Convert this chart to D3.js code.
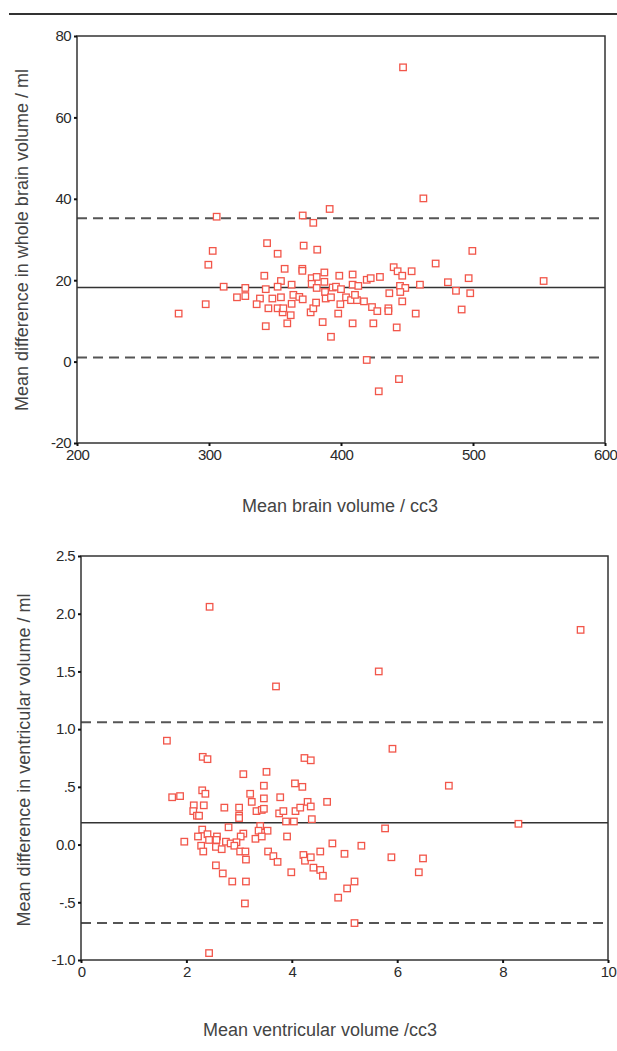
<!DOCTYPE html>
<html><head><meta charset="utf-8">
<script src="https://cdn.jsdelivr.net/npm/d3@7"></script>
<style>
html,body{margin:0;padding:0;background:#fff;}
svg{display:block;}
text{font-family:"Liberation Sans",Arial,sans-serif;}
</style></head>
<body>
<svg id="chart" width="617" height="1051"></svg>
<script>
// ---------- Data: top panel (whole brain volume) ----------
const brainMean = [305.8,371,379,391.4,462.4,344,302.8,352,371.7,382,499.5,299.5,471.7,357.3,370.7,370.7,341.9,387.4,398.7,408.8,439.9,442.9,446.4,453.5,496.7,553.5,354.5,377.8,381.6,387.4,419.5,422.5,429.5,481,311.1,327.5,343,352,362.6,377.8,381.6,393.7,396.2,400,408.8,413.1,444.7,448.7,459.8,487.1,497.9,321.2,327.5,338.6,348,354.5,363.9,368.4,371,387.9,388.4,392.4,403.8,407.6,412.1,417.4,436.6,444.9,446.4,336.1,297.5,277,345,352,355.8,361.9,362.6,356.3,377,379,381.1,397.9,399.5,423.5,427.5,435.9,435.9,456.6,491.4,343,359.3,386.1,408.8,424.5,442.2,392.4,419.5,443.9,428.6,447,410.6];
const brainDiff = [35.6,35.9,34.1,37.5,40.1,29.1,27.2,26.5,28.5,27.5,27.2,23.8,24.1,22.8,22.8,22.3,21.1,21.9,21.1,21.4,23.2,22.2,21.1,22.2,20.5,19.8,19.8,20.5,20.8,19.6,20.1,20.5,20.8,19.5,18.4,18.1,17.8,18.4,18.9,19.1,18.1,18.2,18.4,17.8,18.9,18.6,18.6,18.1,18.9,17.4,16.8,15.8,16.1,15.5,15.5,15.8,16.4,15.9,15.3,17.1,15.5,15.8,15.8,15.1,15.1,14.8,16.8,17.1,14.8,14.1,14.1,11.8,13.1,13.1,12.1,11.4,14.2,13.1,12.1,13.1,14.5,11.8,14.1,13.4,12.4,13.1,12.4,11.8,12.8,8.7,9.4,9.7,9.4,9.4,8.4,6.1,0.4,-4.3,-7.3,72.3,16.4];
const brainLines = {mean:18.2, upper:35.2, lower:1.0};
const brainXTicks = [200,300,400,500,600];
const brainYTicks = [80,60,40,20,0,-20];
const brainYLabels = ["80","60","40","20","0","-20"];

// ---------- Data: bottom panel (ventricular volume) ----------
const ventMean = [1.63,2.31,2.40,4.24,4.36,5.91,3.08,3.52,4.06,4.20,3.47,1.73,1.88,2.30,2.36,3.21,3.47,3.78,3.24,2.14,2.33,2.72,3.00,4.30,4.36,4.67,2.13,3.33,3.43,3.47,3.76,3.84,4.07,4.16,2.20,2.24,3.00,3.00,3.89,4.04,4.38,2.80,3.40,2.30,3.08,3.37,3.54,5.77,2.22,2.40,2.58,3.03,3.31,3.43,3.91,1.96,2.43,2.57,2.75,2.84,2.95,2.28,2.56,2.67,2.91,2.32,3.02,3.12,3.55,4.77,5.32,4.54,3.65,3.73,3.13,4.22,4.25,4.36,5.00,5.89,6.49,6.41,2.56,2.69,3.99,4.41,4.54,4.59,2.87,3.13,5.19,5.05,4.88,3.11,5.19,2.43,2.44,9.48,5.65,3.70,6.98,8.30];
const ventDiff = [0.90,0.76,0.74,0.75,0.73,0.83,0.61,0.63,0.53,0.50,0.51,0.41,0.42,0.47,0.44,0.44,0.40,0.41,0.37,0.34,0.34,0.32,0.32,0.37,0.33,0.37,0.29,0.29,0.30,0.31,0.27,0.29,0.29,0.32,0.25,0.25,0.25,0.23,0.20,0.20,0.22,0.15,0.16,0.13,0.095,0.12,0.12,0.14,0.07,0.09,0.07,0.07,0.05,0.07,0.07,0.025,0.04,0.04,0.025,0.01,0.02,-0.01,-0.02,-0.04,-0.01,-0.06,-0.06,-0.06,-0.06,0.01,-0.01,-0.06,-0.10,-0.15,-0.13,-0.09,-0.14,-0.11,-0.08,-0.11,-0.12,-0.24,-0.18,-0.25,-0.24,-0.20,-0.22,-0.27,-0.32,-0.32,-0.32,-0.38,-0.46,-0.51,-0.68,-0.94,2.06,1.86,1.50,1.37,0.51,0.18];
const ventLines = {mean:0.19, upper:1.06, lower:-0.68};
const ventXTicks = [0,2,4,6,8,10];
const ventYTicks = [2.5,2.0,1.5,1.0,0.5,0.0,-0.5,-1.0];
const ventYLabels = ["2.5","2.0","1.5","1.0",".5","0.0","-.5","-1.0"];

const svg = d3.select("#chart");

// top rule
svg.append("line").attr("x1",9).attr("x2",617).attr("y1",14).attr("y2",14)
  .attr("stroke","#333").attr("stroke-width",2);

function panel(cfg){
  const x = d3.scaleLinear().domain(cfg.xDomain).range([cfg.left,cfg.right]);
  const y = d3.scaleLinear().domain(cfg.yDomain).range([cfg.bottom,cfg.top]);
  const g = svg.append("g");

  const lines = [
    {v:cfg.lines.upper, dash:"10,6"},
    {v:cfg.lines.mean, dash:null},
    {v:cfg.lines.lower, dash:"10,6"}
  ];
  g.selectAll("line.ref").data(lines).enter().append("line")
    .attr("x1",cfg.left).attr("x2",cfg.right)
    .attr("y1",d=>y(d.v)).attr("y2",d=>y(d.v))
    .attr("stroke",d=>d.dash?"#555":"#333")
    .attr("stroke-width",d=>d.dash?2:1.5)
    .attr("stroke-dasharray",d=>d.dash);

  const pts = cfg.xs.map((v,i)=>({x:v,y:cfg.ys[i]}));
  const s = 6.5;
  g.selectAll("rect.pt").data(pts).enter().append("rect")
    .attr("x",d=>x(d.x)-s/2).attr("y",d=>y(d.y)-s/2)
    .attr("width",s).attr("height",s)
    .attr("fill","#fff").attr("stroke","#f2564a").attr("stroke-width",1.3);

  g.append("rect").attr("x",cfg.left).attr("y",cfg.top)
    .attr("width",cfg.right-cfg.left).attr("height",cfg.bottom-cfg.top)
    .attr("fill","none").attr("stroke","#333").attr("stroke-width",1.5);

  const xa = d3.axisBottom(x).tickValues(cfg.xTicks).tickSize(3).tickPadding(3).tickFormat(d3.format("d"));
  const gx = g.append("g").attr("transform",`translate(0,${cfg.bottom})`).call(xa);
  const ya = d3.axisLeft(y).tickValues(cfg.yTicks).tickSize(3).tickPadding(3)
    .tickFormat((d,i)=>cfg.yLabels[i]);
  const gy = g.append("g").attr("transform",`translate(${cfg.left},0)`).call(ya);
  [gx,gy].forEach(a=>{
    a.select(".domain").remove();
    a.selectAll(".tick line").attr("stroke","#111").attr("stroke-width",2);
    a.selectAll(".tick text").attr("fill","#2a2a2a").attr("font-size",15)
      .attr("font-family","'Liberation Sans',Arial,sans-serif").attr("letter-spacing","-0.6");
  });

  g.append("text").attr("x",cfg.xTitleX).attr("y",cfg.xTitleY)
    .attr("text-anchor","middle").attr("fill","#444").attr("font-size",18)
    .text(cfg.xTitle);
  g.append("text")
    .attr("transform",`translate(${cfg.yTitleX},${cfg.yTitleY}) rotate(-90)`)
    .attr("text-anchor","middle").attr("fill","#444").attr("font-size",18)
    .text(cfg.yTitle);
}

panel({
  xDomain:[200,600], yDomain:[-20,80],
  left:77, right:605, top:36, bottom:443,
  xs:brainMean, ys:brainDiff, lines:brainLines,
  xTicks:brainXTicks, yTicks:brainYTicks, yLabels:brainYLabels,
  xTitle:"Mean brain volume / cc3", xTitleX:340, xTitleY:512,
  yTitle:"Mean difference in whole brain volume / ml", yTitleX:28, yTitleY:240
});

panel({
  xDomain:[0,10], yDomain:[-1,2.5],
  left:81, right:608, top:556, bottom:960,
  xs:ventMean, ys:ventDiff, lines:ventLines,
  xTicks:ventXTicks, yTicks:ventYTicks, yLabels:ventYLabels,
  xTitle:"Mean ventricular volume /cc3", xTitleX:320, xTitleY:1036,
  yTitle:"Mean difference in ventricular volume / ml", yTitleX:30, yTitleY:760
});
</script>
</body></html>
